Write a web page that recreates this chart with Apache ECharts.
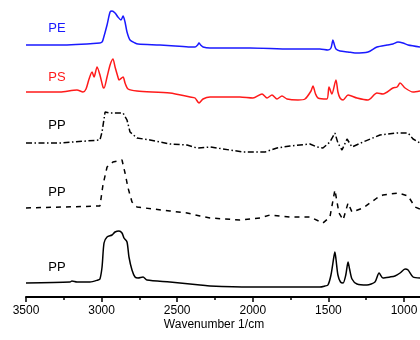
<!DOCTYPE html>
<html>
<head>
<meta charset="utf-8">
<script src="https://cdn.jsdelivr.net/npm/echarts@6/dist/echarts.min.js"></script>
<style>
  html, body { margin: 0; padding: 0; background: #fff; }
  #chart { width: 420px; height: 340px; }
</style>
</head>
<body>
<div id="chart"></div>
<script>
// spectra as [wavenumber (1/cm), stacked intensity (a.u.)]
const peSpectrum = [
  [3500,252],[3275,252],[3011,254],[2997,255],[2991,257],[2964,272],[2944,285],[2931,286],[2911,284],
  [2892,280],[2872,277],[2858,281],[2845,275],[2832,265],[2812,257],[2779,254],[2759,253],[2614,252],
  [2514,251],[2415,250],[2382,250],[2365,252],[2356,254],[2345,252],[2329,250],[2283,249],[2018,249],
  [1754,248],[1556,248],[1503,247],[1483,249],[1470,257],[1460,252],[1450,248],[1423,246],[1370,245],
  [1324,244],[1238,245],[1179,250],[1112,252],[1073,253],[1040,255],[1007,254],[973,252],[894,250]
];
const psSpectrum = [
  [3500,205],[3275,205],[3163,207],[3123,205],[3103,208],[3083,218],[3063,225],[3050,220],[3030,230],
  [3011,222],[2991,210],[2984,209],[2964,220],[2944,232],[2925,238],[2911,230],[2892,220],[2885,217],
  [2858,220],[2845,214],[2825,208],[2766,206],[2548,204],[2415,200],[2382,199],[2356,194],[2329,198],
  [2283,200],[2085,200],[1999,199],[1939,203],[1906,199],[1873,202],[1840,198],[1807,201],[1774,198],
  [1701,197],[1655,198],[1615,206],[1602,211],[1585,203],[1569,199],[1510,198],[1496,210],[1477,203],
  [1450,217],[1437,205],[1423,199],[1403,197],[1370,202],[1311,199],[1238,197],[1179,204],[1139,203],
  [1073,209],[1046,210],[1026,214],[993,209],[940,205],[894,206]
];
const ppDashDot = [
  [3500,154],[3275,154],[3011,157],[2997,165],[2977,185],[2944,184],[2878,184],[2858,184],[2832,177],
  [2812,165],[2766,159],[2680,157],[2548,153],[2435,152],[2369,149],[2283,150],[2065,145],[1919,145],
  [1840,149],[1754,151],[1622,153],[1576,150],[1536,149],[1490,155],[1457,164],[1437,154],[1410,147],
  [1377,158],[1344,150],[1271,155],[1159,162],[1046,164],[973,164],[940,158],[894,154]
];
const ppDashed = [
  [3500,89],[3011,91],[2991,112],[2964,130],[2925,135],[2865,137],[2845,124],[2825,109],[2799,95],
  [2766,90],[2660,88],[2548,86],[2435,84],[2349,81],[2283,79],[2085,77],[1952,79],[1886,82],[1754,80],
  [1622,80],[1536,74],[1490,80],[1457,107],[1430,84],[1403,77],[1370,94],[1344,85],[1271,89],
  [1179,99],[1139,102],[1040,104],[973,101],[927,90],[894,88]
];
const ppSolid = [
  [3500,14],[3209,15],[3196,16],[3163,15],[3077,15],[3024,17],[3011,18],[2997,30],[2984,54],[2964,60],
  [2931,62],[2911,65],[2885,66],[2865,64],[2852,59],[2832,55],[2819,40],[2799,27],[2779,20],[2759,19],
  [2726,20],[2700,17],[2548,15],[2349,12],[2283,11],[2018,10],[1556,10],[1523,11],[1503,12],[1483,22],
  [1464,40],[1457,45],[1450,38],[1437,22],[1420,15],[1403,14],[1385,22],[1370,35],[1360,28],[1344,18],
  [1311,13],[1245,12],[1192,15],[1165,24],[1139,19],[1093,20],[1060,21],[1026,24],[993,28],[973,27],
  [940,20],[894,19]
];

const traceNames = ['PE', 'PS', 'PP', 'PP', 'PP'];
const traceColors = ['#1a1aff', '#ff1a1a', '#000', '#000', '#000'];
const labelSpots = [[3295,269],[3295,220],[3295,172],[3295,105],[3295,30]];
const xTicks = { min: 500, max: 3500, step: 500 };
const axisTitle = 'Wavenumber 1/cm';

const font = 'Liberation Sans, Arial, sans-serif';
const chart = echarts.init(document.getElementById('chart'), null, { renderer: 'canvas' });

const spectra = [peSpectrum, psSpectrum, ppDashDot, ppDashed, ppSolid];
const dashes = ['solid', 'solid', [6, 2.5, 1.5, 2.5], [5, 5], 'solid'];

const series = spectra.map((data, i) => ({
  type: 'line',
  data: data,
  symbol: 'none',
  smooth: i === 2 || i === 3 ? false : 0.25,
  lineStyle: { color: traceColors[i], width: 1.5, type: dashes[i] },
  markPoint: {
    symbol: 'circle',
    symbolSize: 0,
    silent: true,
    data: [{ coord: labelSpots[i], value: traceNames[i] }],
    label: {
      show: true,
      position: 'inside',
      formatter: traceNames[i],
      color: traceColors[i],
      fontSize: 13,
      fontFamily: font
    }
  }
}));

chart.setOption({
  animation: false,
  backgroundColor: '#fff',
  grid: { left: 26, width: 453.6, top: 0, bottom: 43, outerBoundsMode: 'none', containLabel: false },
  xAxis: {
    type: 'value',
    inverse: true,
    min: xTicks.min,
    max: xTicks.max,
    interval: xTicks.step,
    axisLine: { lineStyle: { color: '#000', width: 2 } },
    axisTick: { length: 5, lineStyle: { color: '#000', width: 1.5 } },
    minorTick: { show: true, splitNumber: 2, length: 3, lineStyle: { color: '#000', width: 1.5 } },
    splitLine: { show: false },
    axisLabel: {
      color: '#000', fontSize: 12, fontFamily: font, margin: 8, showMaxLabel: true,
      formatter: v => String(v)
    }
  },
  yAxis: { type: 'value', min: 0, max: 297, show: false },
  graphic: [{
    type: 'text',
    x: 214,
    y: 325,
    style: { text: axisTitle, fill: '#000', font: '12px ' + font, textAlign: 'center', textVerticalAlign: 'middle' }
  }],
  series: series
});
</script>
</body>
</html>
